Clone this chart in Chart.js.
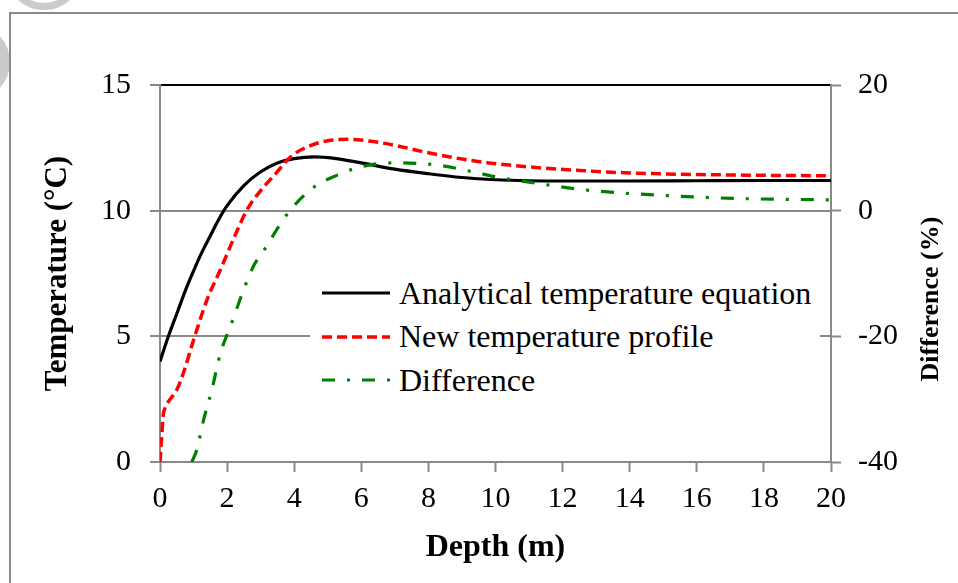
<!DOCTYPE html>
<html>
<head>
<meta charset="utf-8">
<script src="https://cdn.jsdelivr.net/npm/chart.js@4.4.1/dist/chart.umd.min.js"></script>
<style>
  body { margin: 0; background: #fff; overflow: hidden; }
  #wrap { position: relative; width: 958px; height: 583px; overflow: hidden; }
  .ring { position: absolute; border-radius: 50%; border: solid #cbcbcb; }
  #frame { position: absolute; left: 9px; top: 12px; width: 1000px; height: 600px;
           border-left: 2px solid #8a8a8a; border-top: 2px solid #8a8a8a; }
  #chart { position: absolute; left: 0; top: 0; }
  #legend { position: absolute; left: 310px; top: 271px; width: 510px; height: 130px;
            background: #fff; font-family: "Liberation Serif", "Times New Roman", serif; font-size: 32px; }
  .row { position: absolute; left: 12px; height: 44px; display: flex; align-items: center; }
  .row svg { margin-right: 7px; }
</style>
</head>
<body>
<div id="wrap">
  <div class="ring" style="left:5px; top:-68px; width:64px; height:64px; border-width:7px;"></div>
  <div class="ring" style="left:-66px; top:24px; width:56px; height:56px; border-width:10px;"></div>
  <div id="frame"></div>
  <canvas id="chart" width="958" height="583"></canvas>
  <div id="legend"></div>
</div>
<script>
// series labels
const seriesLabels = ['Analytical temperature equation', 'New temperature profile', 'Difference']
const xTitle = 'Depth (m)'
const leftTitle = 'Temperature (°C)'
const rightTitle = 'Difference (%)'

// Analytical temperature equation (°C)
const analyticalDepth = [0, 0.25, 0.5, 0.75, 1.0, 1.25, 1.5, 1.75, 2.0, 2.5, 3.0, 3.5, 4.0, 4.6, 5.2, 6.0, 7.0, 8.0, 9.0, 10.0, 11.0, 12.0, 14.0, 16.0, 18.0, 20.0]
const analyticalTemp = [4.0, 5.0, 5.9, 6.8, 7.6, 8.35, 9.0, 9.65, 10.2, 11.0, 11.55, 11.9, 12.07, 12.14, 12.08, 11.9, 11.65, 11.47, 11.32, 11.23, 11.19, 11.18, 11.18, 11.19, 11.2, 11.2]

// New temperature profile (°C)
const profileDepth = [0, 0.05, 0.1, 0.15, 0.25, 0.5, 0.7, 1.0, 1.4, 1.8, 2.2, 2.6, 3.0, 3.4, 3.9, 4.5, 5.0, 5.6, 6.3, 7.0, 7.8, 8.8, 9.8, 11.0, 12.5, 14.0, 15.5, 17.0, 18.5, 20.0]
const profileTemp = [0, 1.0, 1.9, 2.15, 2.4, 2.87, 3.55, 4.85, 6.45, 7.65, 8.9, 10.05, 10.8, 11.4, 12.15, 12.6, 12.78, 12.84, 12.76, 12.6, 12.36, 12.1, 11.9, 11.74, 11.6, 11.5, 11.45, 11.42, 11.4, 11.39]

// Difference (%)
const diffDepth = [0.95, 1.1, 1.3, 1.55, 1.8, 2.1, 2.5, 2.8, 3.1, 3.7, 4.1, 4.6, 5.3, 5.8, 6.4, 7.0, 8.2, 9.4, 10.0, 11.3, 12.5, 13.8, 15.1, 16.3, 17.5, 18.8, 20.0]
const diffValue = [-40, -38, -33.3, -28.4, -22.7, -18.4, -12.5, -8.7, -6.3, -1.2, 1.4, 3.8, 5.7, 6.7, 7.4, 7.6, 7.3, 6.1, 5.4, 4.3, 3.4, 2.8, 2.4, 2.1, 1.9, 1.8, 1.7]

// axis ranges: min, max, step
const depthTicks = [0, 20, 2]
const tempTicks = [0, 15, 5]
const diffTicks = [-40, 20, 20]

const pair = (xs, ys) => xs.map((x, i) => ({ x: x, y: ys[i] }))

const GRAY = '#898989'
const FONT = '"Liberation Serif", "Times New Roman", serif'
Chart.defaults.font.family = FONT
Chart.defaults.color = '#000'

// right axis title reads bottom-to-top like the left one
const rightTitlePlugin = {
    id: 'rightTitle',
    afterDraw(chart) {
        const ctx = chart.ctx
        ctx.save()
        ctx.translate(931, 299)
        ctx.rotate(-Math.PI / 2)
        ctx.font = 'bold 26px ' + FONT
        ctx.fillStyle = '#000'
        ctx.textAlign = 'center'
        ctx.textBaseline = 'middle'
        ctx.fillText(rightTitle, 0, 0)
        ctx.restore()
    }
}

const ctx = document.querySelector('#chart').getContext('2d')
const chart = new Chart(ctx, {
    type: 'line',
    data: {
        datasets: [{
            label: seriesLabels[0],
            data: pair(analyticalDepth, analyticalTemp),
            borderColor: '#000000',
            borderWidth: 3.2,
            yAxisID: 'y',
            order: 3
        }, {
            label: seriesLabels[1],
            data: pair(profileDepth, profileTemp),
            borderColor: '#ff0000',
            borderWidth: 3.5,
            borderDash: [10, 5],
            yAxisID: 'y',
            order: 2
        }, {
            label: seriesLabels[2],
            data: pair(diffDepth, diffValue),
            borderColor: '#008000',
            borderWidth: 3.2,
            borderDash: [13, 12, 3, 12],
            yAxisID: 'y2',
            order: 1
        }]
    },
    options: {
        responsive: false,
        animation: false,
        events: [],
        layout: { padding: { top: 85, left: 0, right: 0, bottom: 0 } },
        elements: {
            point: { radius: 0 },
            line: { cubicInterpolationMode: 'monotone', fill: false }
        },
        plugins: {
            legend: { display: false },
            tooltip: { enabled: false }
        },
        scales: {
            x: {
                type: 'linear',
                min: depthTicks[0], max: depthTicks[1],
                ticks: { stepSize: depthTicks[2], font: { size: 30 }, padding: 9 },
                grid: { drawOnChartArea: false, tickLength: 10, tickColor: GRAY, tickWidth: 2 },
                border: { color: GRAY, width: 2 },
                title: { display: true, text: xTitle, font: { size: 32, weight: 'bold' }, padding: { top: 0, bottom: 16 } },
                afterFit(scale) { scale.height = 121 }
            },
            y: {
                position: 'left',
                min: tempTicks[0], max: tempTicks[1],
                ticks: { stepSize: tempTicks[2], font: { size: 30 }, padding: 19 },
                grid: {
                    color: c => c.tick && c.tick.value === tempTicks[1] ? '#000' : GRAY,
                    lineWidth: 2, tickLength: 10, tickColor: GRAY, tickWidth: 2
                },
                border: { color: GRAY, width: 2 },
                title: { display: true, text: leftTitle, font: { size: 31, weight: 'bold' }, padding: { top: 39, bottom: 0 } },
                afterFit(scale) { scale.width = 160 }
            },
            y2: {
                position: 'right',
                min: diffTicks[0], max: diffTicks[1],
                ticks: { stepSize: diffTicks[2], font: { size: 30 }, padding: 17 },
                grid: { drawOnChartArea: false, tickLength: 10, tickColor: GRAY, tickWidth: 2 },
                border: { color: GRAY, width: 2 },
                afterFit(scale) { scale.width = 127 }
            }
        }
    },
    plugins: [rightTitlePlugin]
})

// legend built from the datasets
const legend = document.querySelector('#legend')
chart.data.datasets.forEach((ds, i) => {
    const row = document.createElement('div')
    row.className = 'row'
    row.style.top = (i * 43.5) + 'px'
    const dash = ds.borderDash ? ds.borderDash.join(' ') : 'none'
    row.innerHTML = '<svg width="70" height="10"><line x1="0" y1="5" x2="68" y2="5" stroke="' + ds.borderColor +
        '" stroke-width="' + ds.borderWidth + '" stroke-dasharray="' + dash + '"/></svg><span>' + ds.label + '</span>'
    legend.appendChild(row)
})
</script>
</body>
</html>
